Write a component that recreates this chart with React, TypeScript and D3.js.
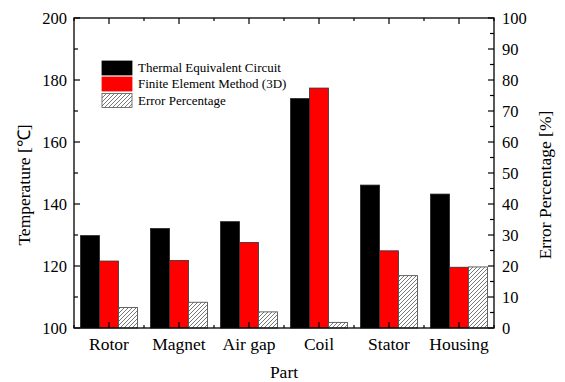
import React from "react";
import * as d3 from "d3";

const parts = ["Rotor", "Magnet", "Air gap", "Coil", "Stator", "Housing"];
const tecValues = [129.8, 132.1, 134.3, 174.0, 146.1, 143.2];
const femValues = [121.6, 121.8, 127.6, 177.4, 124.9, 119.6];
const errorValues = [6.6, 8.3, 5.2, 1.8, 16.9, 19.7];
const seriesNames = ["Thermal Equivalent Circuit", "Finite Element Method (3D)", "Error Percentage"];
const leftTicks = [100, 120, 140, 160, 180, 200];
const rightTicks = [0, 10, 20, 30, 40, 50, 60, 70, 80, 90, 100];

const W = 565, H = 382;
const L = 74, R = 494, T = 18, B = 328;
const FONT = "'Liberation Serif', 'Times New Roman', serif";

export default function App() {
  const x = d3.scaleBand<string>().domain(parts).range([L, R]).paddingInner(0).paddingOuter(0);
  const xs = d3.scaleBand<string>().domain(["tec", "fem", "err"]).range([0, x.bandwidth()]).paddingInner(0).paddingOuter(0.342);
  const yL = d3.scaleLinear().domain([100, 200]).range([B, T]);
  const yR = d3.scaleLinear().domain([0, 100]).range([B, T]);
  const bw = xs.bandwidth();

  const leftMinor = d3.range(110, 200, 20);
  const rightMinor = d3.range(5, 100, 10);
  const bottomTicks = d3.range(0, parts.length * 2 + 1).map((i) => L + (i * x.step()) / 2);

  const legendX = 102, legendW = 30;
  const legendRows = [
    { y: 61, h: 14, fill: "#000", stroke: "#000" },
    { y: 77, h: 14, fill: "#ff0000", stroke: "#ff0000" },
    { y: 93.5, h: 14, fill: "url(#hatch)", stroke: "#555" },
  ];

  return (
    <svg width={W} height={H} style={{ position: "absolute", left: 0, top: 0, background: "#fff" }} fontFamily={FONT}>
      <defs>
        <pattern id="hatch" patternUnits="userSpaceOnUse" width="4" height="4">
          <rect width="4" height="4" fill="#fff" />
          <path d="M-1,1 l2,-2 M0,4 l4,-4 M3,5 l2,-2" stroke="#555" strokeWidth="0.8" />
        </pattern>
      </defs>

      {/* bars */}
      {parts.map((p, i) => {
        const gx = x(p)!;
        return (
          <g key={p}>
            <rect x={gx + xs("tec")!} y={yL(tecValues[i])} width={bw} height={B - yL(tecValues[i])} fill="#000" stroke="#222" strokeWidth={0.8} />
            <rect x={gx + xs("fem")!} y={yL(femValues[i])} width={bw} height={B - yL(femValues[i])} fill="#ff0000" stroke="#333" strokeWidth={0.8} />
            <rect x={gx + xs("err")!} y={yR(errorValues[i])} width={bw} height={B - yR(errorValues[i])} fill="url(#hatch)" stroke="#555" strokeWidth={0.9} />
          </g>
        );
      })}

      {/* frame */}
      <rect x={L} y={T} width={R - L} height={B - T} fill="none" stroke="#000" strokeWidth={1.3} />

      {/* left axis ticks */}
      {leftTicks.map((t) => (
        <g key={"l" + t}>
          <line x1={L} x2={L + 6} y1={yL(t)} y2={yL(t)} stroke="#000" strokeWidth={1.2} />
          <text x={L - 7} y={yL(t)} dy="0.34em" textAnchor="end" fontSize={16.5}>{t}</text>
        </g>
      ))}
      {leftMinor.map((t) => (
        <line key={"lm" + t} x1={L} x2={L + 4} y1={yL(t)} y2={yL(t)} stroke="#000" strokeWidth={1.2} />
      ))}

      {/* right axis ticks */}
      {rightTicks.map((t) => (
        <g key={"r" + t}>
          <line x1={R} x2={R - 6} y1={yR(t)} y2={yR(t)} stroke="#000" strokeWidth={1.2} />
          <text x={R + 8} y={yR(t)} dy="0.34em" textAnchor="start" fontSize={16.5}>{t}</text>
        </g>
      ))}
      {rightMinor.map((t) => (
        <line key={"rm" + t} x1={R} x2={R - 4} y1={yR(t)} y2={yR(t)} stroke="#000" strokeWidth={1.2} />
      ))}

      {/* top & bottom ticks */}
      {bottomTicks.map((bx, i) => (
        <g key={"b" + i}>
          <line x1={bx} x2={bx} y1={B} y2={B - (i % 2 === 1 ? 6 : 3)} stroke="#000" strokeWidth={1.2} />
          <line x1={bx} x2={bx} y1={T} y2={T + (i % 2 === 1 ? 6 : 3)} stroke="#000" strokeWidth={1.2} />
        </g>
      ))}

      {/* x labels */}
      {parts.map((p) => (
        <text key={"xl" + p} x={x(p)! + x.bandwidth() / 2} y={350} textAnchor="middle" fontSize={17.5}>{p}</text>
      ))}

      {/* axis titles */}
      <text x={(L + R) / 2} y={378} textAnchor="middle" fontSize={17.5}>Part</text>
      <text transform={`translate(30,${185}) rotate(-90)`} textAnchor="middle" fontSize={17.5}>Temperature [℃]</text>
      <text transform={`translate(551,${185}) rotate(-90)`} textAnchor="middle" fontSize={17.5}>Error Percentage [%]</text>

      {/* legend */}
      {legendRows.map((r, i) => (
        <g key={"lg" + i}>
          <rect x={legendX} y={r.y} width={legendW} height={r.h} fill={r.fill} stroke={r.stroke} strokeWidth={0.8} />
          <text x={138} y={r.y + r.h / 2} dy="0.34em" fontSize={13}>{seriesNames[i]}</text>
        </g>
      ))}
    </svg>
  );
}
